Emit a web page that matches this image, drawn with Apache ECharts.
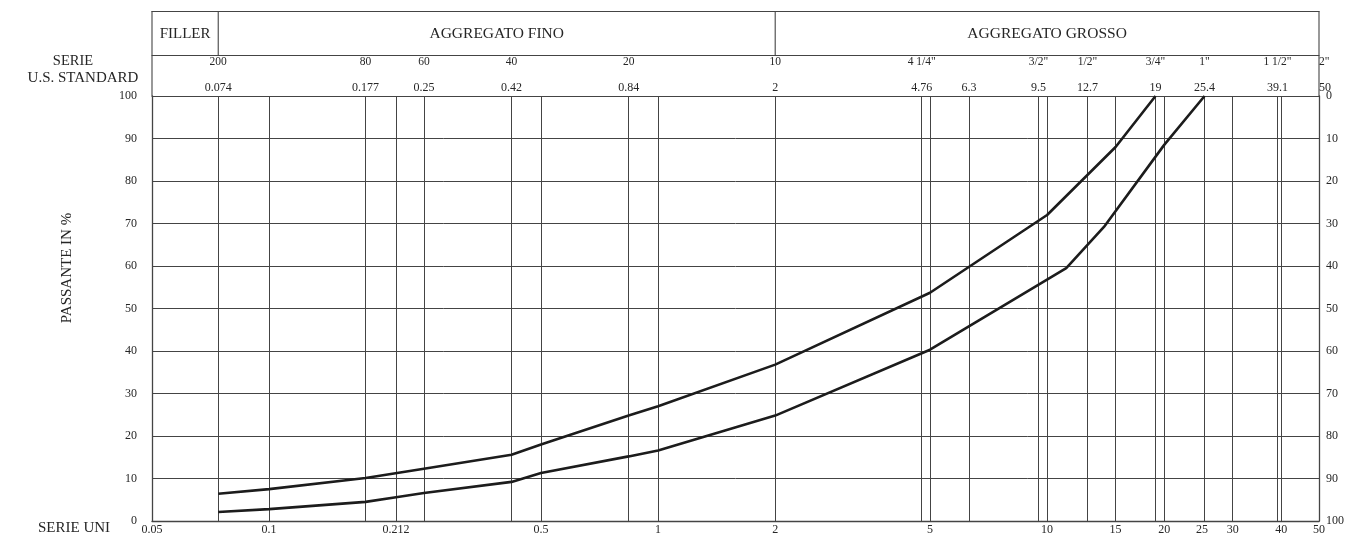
<!DOCTYPE html>
<html>
<head>
<meta charset="utf-8">
<title>Curva granulometrica</title>
<script src="https://cdn.jsdelivr.net/npm/echarts@6/dist/echarts.min.js"></script>
<style>
  html, body { margin: 0; padding: 0; background: #fff; }
  #chart { width: 1347px; height: 536px; }
</style>
</head>
<body>
<div id="chart"></div>
<script>
// sieve openings (mm) that get a vertical grid line
const sieveLines = [0.074, 0.1, 0.177, 0.212, 0.25, 0.42, 0.5, 0.84, 1, 2, 4.76, 5, 6.3, 9.5, 10, 12.7, 15, 19, 20, 25.4, 30, 39.1, 40]
// bottom scale (SERIE UNI)
const uniValues = [0.05, 0.1, 0.212, 0.5, 1, 2, 5, 10, 15, 20, 25, 30, 40, 50]
// top scale, mm row (U.S. standard openings)
const mmValues = [0.074, 0.177, 0.25, 0.42, 0.84, 2, 4.76, 6.3, 9.5, 12.7, 19, 25.4, 39.1, 50]
const mmLabels = ['0.074', '0.177', '0.25', '0.42', '0.84', '2', '4.76', '6.3', '9.5', '12.7', '19', '25.4', '39.1', '50']
// top scale, sieve number row
const usValues = [0.074, 0.177, 0.25, 0.42, 0.84, 2, 4.76, 9.5, 12.7, 19, 25.4, 39.1, 50]
const usLabels = ['200', '80', '60', '40', '20', '10', '4 1/4"', '3/2"', '1/2"', '3/4"', '1"', '1 1/2"', '2"']

// grading envelope, [opening mm, passing %]
const upperCurve = [
  [0.074, 6.4], [0.1, 7.5], [0.177, 10.1], [0.25, 12.3], [0.42, 15.6], [0.5, 18],
  [0.84, 24.8], [1, 27], [2, 36.8], [5, 53.7], [10, 72], [15, 88], [19, 100]
]
const lowerCurve = [
  [0.074, 2.1], [0.1, 2.8], [0.177, 4.5], [0.212, 5.6], [0.25, 6.6], [0.42, 9.2], [0.5, 11.3],
  [0.84, 15.2], [1, 16.6], [2, 24.8], [5, 40.3], [11.2, 59.5], [14, 69.2], [20, 88.5], [25.4, 100]
]

const FONT = '"Liberation Serif", "DejaVu Serif", serif'
const TEXT = '#262626'
const LINE = '#444'

function pickLabel(values, labels) {
  return function (v) {
    for (let i = 0; i < values.length; i++) {
      if (Math.abs(v - values[i]) < values[i] * 1e-6) return labels[i]
    }
    return ''
  }
}

function logAxis(extra) {
  return Object.assign({
    type: 'log',
    logBase: 10,
    min: 0.05,
    max: 50,
    axisTick: { show: false },
    splitLine: { show: false },
    axisLine: { show: false, lineStyle: { color: LINE, width: 1 } },
    axisLabel: { show: false }
  }, extra)
}

const chart = echarts.init(document.getElementById('chart'))

chart.setOption({
  animation: false,
  backgroundColor: '#fff',
  grid: { left: 152, right: 27, top: 96, bottom: 14, containLabel: false },
  xAxis: [
    logAxis({
      position: 'bottom',
      axisLine: { show: true, lineStyle: { color: LINE, width: 1.3 } },
      axisTick: { show: false, customValues: sieveLines },
      axisLabel: {
        show: true,
        customValues: uniValues,
        formatter: v => String(+v.toPrecision(4)),
        margin: 3,
        color: TEXT,
        fontFamily: FONT,
        fontSize: 12,
        showMinLabel: true,
        showMaxLabel: true
      },
      splitLine: { show: true, lineStyle: { color: LINE, width: 1 } }
    }),
    logAxis({
      position: 'top',
      axisLine: { show: true, lineStyle: { color: LINE, width: 1.1 } },
      axisLabel: {
        show: true,
        customValues: mmValues,
        formatter: pickLabel(mmValues, mmLabels),
        margin: 2,
        color: TEXT,
        fontFamily: FONT,
        fontSize: 12,
        showMinLabel: true,
        showMaxLabel: true,
        alignMaxLabel: 'left'
      }
    }),
    logAxis({
      position: 'top',
      offset: 24,
      axisLabel: {
        show: true,
        customValues: usValues,
        formatter: pickLabel(usValues, usLabels),
        margin: 4,
        color: TEXT,
        fontFamily: FONT,
        fontSize: 11.5,
        showMinLabel: true,
        showMaxLabel: true,
        alignMaxLabel: 'left'
      }
    }),
    // header divider and header top border
    logAxis({ position: 'top', offset: 41, axisLine: { show: true, lineStyle: { color: LINE, width: 1.1 } } }),
    logAxis({ position: 'top', offset: 85, axisLine: { show: true, lineStyle: { color: LINE, width: 1.1 } } })
  ],
  yAxis: [
    {
      type: 'value',
      min: 0,
      max: 100,
      interval: 10,
      position: 'left',
      axisLine: { show: true, lineStyle: { color: LINE, width: 1.3 } },
      axisTick: { show: false },
      axisLabel: { margin: 15, color: TEXT, fontFamily: FONT, fontSize: 12 },
      splitLine: { show: true, lineStyle: { color: LINE, width: 1 } }
    },
    {
      type: 'value',
      min: 0,
      max: 100,
      interval: 10,
      inverse: true,
      position: 'right',
      axisLine: { show: true, lineStyle: { color: LINE, width: 1.3 } },
      axisTick: { show: false },
      axisLabel: { margin: 7, color: TEXT, fontFamily: FONT, fontSize: 12 },
      splitLine: { show: false }
    }
  ],
  series: [
    {
      name: 'limite superiore',
      type: 'line',
      data: upperCurve,
      showSymbol: false,
      symbol: 'none',
      lineStyle: { color: '#1c1c1c', width: 2.6 },
      z: 5
    },
    {
      name: 'limite inferiore',
      type: 'line',
      data: lowerCurve,
      showSymbol: false,
      symbol: 'none',
      lineStyle: { color: '#1c1c1c', width: 2.6 },
      z: 5
    }
  ]
})

// header cells, placed from the axis scale
const xFiller = chart.convertToPixel({ xAxisIndex: 0 }, 0.074)
const xFine = chart.convertToPixel({ xAxisIndex: 0 }, 2)
const xLeft = chart.convertToPixel({ xAxisIndex: 0 }, 0.05)
const xRight = chart.convertToPixel({ xAxisIndex: 0 }, 50)
const yTop = chart.convertToPixel({ yAxisIndex: 0 }, 100)
const yHead = yTop - 85
const yDiv = yTop - 41

function vline(x, y1, y2) {
  return { type: 'line', silent: true, shape: { x1: x, y1: y1, x2: x, y2: y2 }, style: { stroke: LINE, lineWidth: 1.1 } }
}
function label(text, x, y, opts) {
  return {
    type: 'text', silent: true, x: x, y: y, rotation: (opts && opts.rotation) || 0,
    style: Object.assign({ text: text, fill: TEXT, font: '15px ' + FONT, align: 'center', verticalAlign: 'middle' }, opts && opts.style)
  }
}

chart.setOption({
  graphic: [
    vline(xLeft, yHead, yTop),
    vline(xRight, yHead, yTop),
    vline(xFiller, yHead, yDiv),
    vline(xFine, yHead, yDiv),
    label('FILLER', (xLeft + xFiller) / 2, (yHead + yDiv) / 2 + 1, { style: { font: '15px ' + FONT } }),
    label('AGGREGATO FINO', (xFiller + xFine) / 2, (yHead + yDiv) / 2 + 1, { style: { font: '15.5px ' + FONT } }),
    label('AGGREGATO GROSSO', (xFine + xRight) / 2, (yHead + yDiv) / 2 + 1, { style: { font: '15.5px ' + FONT } }),
    label('SERIE', 73, 61, { style: { font: '14.5px ' + FONT } }),
    label('U.S. STANDARD', 83, 78, { style: { font: '15px ' + FONT } }),
    label('PASSANTE IN %', 67, 268, { rotation: Math.PI / 2, style: { font: '15px ' + FONT } }),
    label('SERIE UNI', 38, 528, { style: { font: '15px ' + FONT, align: 'left' } })
  ]
})
</script>
</body>
</html>
